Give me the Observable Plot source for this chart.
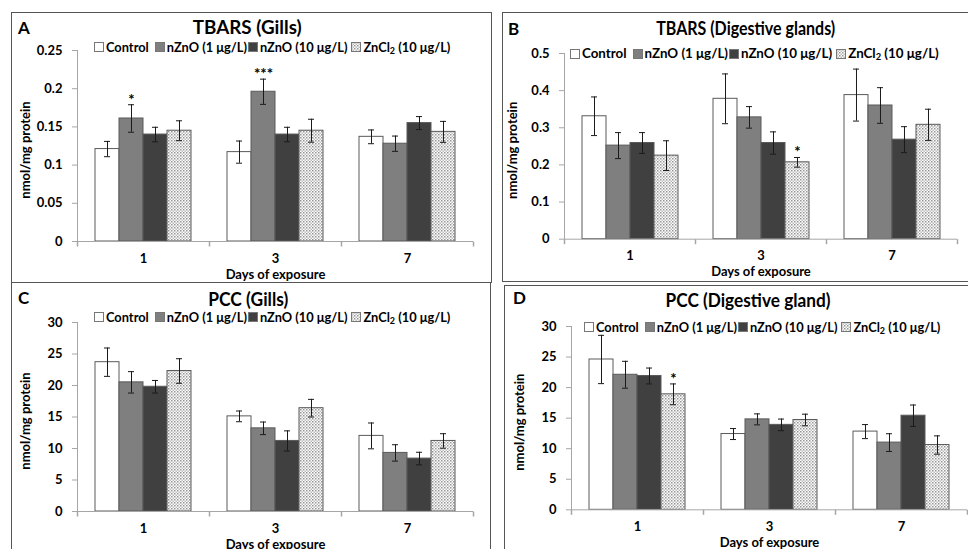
<!DOCTYPE html>
<html><head><meta charset="utf-8">
<script src="https://cdn.jsdelivr.net/npm/d3@7"></script>
<script src="https://cdn.jsdelivr.net/npm/@observablehq/plot@0.6"></script>
<style>
body{margin:0;background:#fff;overflow:hidden;font-family:Lato,"Open Sans",sans-serif;font-weight:bold;color:#000}
#page{position:relative;width:968px;height:549px;overflow:hidden;background:#fff}
.box{position:absolute;border:1px solid #555;box-sizing:border-box}
.letter{position:absolute;font-size:17px;line-height:1}
.title{position:absolute;font-size:18px;line-height:1;white-space:nowrap}
.legend{position:absolute;display:flex;align-items:center;font-size:12px;white-space:nowrap;z-index:3;line-height:1}
.legend .item{display:flex;align-items:center}
.legend svg{margin-right:2px;display:block}
.legend sub{font-size:0.7em;vertical-align:-2px;line-height:0}
.plotsvg{position:absolute;max-width:none !important;background:transparent !important;overflow:visible}
</style></head>
<body>
<div id="page">
<svg width="0" height="0" style="position:absolute">
 <defs>
  <pattern id="dots" patternUnits="userSpaceOnUse" width="3" height="3">
   <rect width="3" height="3" fill="#ffffff"/>
   <rect x="0" y="0" width="1.5" height="1.5" fill="#949494"/>
   <rect x="1.5" y="1.5" width="1.5" height="1.5" fill="#bdbdbd"/>
  </pattern>
 </defs>
</svg>
</div>
<script>
// ---------- data ----------
const days = ["1", "3", "7"];
const series = ["Control", "nZnO (1 μg/L)", "nZnO (10 μg/L)", "ZnCl2 (10 μg/L)"];
const seriesLegend = ["Control", "nZnO (1 μg/L)", "nZnO (10 μg/L)", "ZnCl<sub>2</sub> (10 μg/L)"];
const letters = ["A", "B", "C", "D"];
const titles = ["TBARS (Gills)", "TBARS (Digestive glands)", "PCC (Gills)", "PCC (Digestive gland)"];
const yLabel = "nmol/mg protein";
const xLabel = "Days of exposure";

// values ordered day 1 (4 series), day 3, day 7
const tbarsGills    = [0.121, 0.161, 0.140, 0.145,  0.117, 0.196, 0.140, 0.145,  0.137, 0.128, 0.155, 0.1435];
const tbarsGillsErr = [0.010, 0.018, 0.0095, 0.013, 0.0145, 0.0165, 0.0095, 0.015, 0.009, 0.010, 0.0085, 0.0137];
const tbarsDG       = [0.331, 0.252, 0.259, 0.225,  0.378, 0.328, 0.259, 0.207,  0.388, 0.360, 0.268, 0.308];
const tbarsDGErr    = [0.052, 0.035, 0.028, 0.040,  0.067, 0.029, 0.030, 0.013,  0.070, 0.048, 0.035, 0.042];
const pccGills      = [23.7, 20.5, 19.8, 22.3,  15.1, 13.2, 11.2, 16.4,  12.0, 9.3, 8.4, 11.2];
const pccGillsErr   = [2.25, 1.7, 1.0, 1.95,  0.85, 1.0, 1.6, 1.4,  2.05, 1.3, 1.0, 1.15];
const pccDG         = [24.6, 22.1, 21.9, 18.9,  12.4, 14.8, 13.9, 14.7,  12.8, 11.0, 15.4, 10.6];
const pccDGErr      = [3.95, 2.2, 1.3, 1.7,  0.9, 0.9, 0.95, 0.95,  1.15, 1.45, 1.75, 1.5];

const ticksTbarsGills = [0, 0.05, 0.1, 0.15, 0.2, 0.25];
const ticksTbarsDG    = [0, 0.1, 0.2, 0.3, 0.4, 0.5];
const ticksPcc        = [0, 5, 10, 15, 20, 25, 30];

const sigTbarsGills = [["1", "nZnO (1 μg/L)", "*"], ["3", "nZnO (1 μg/L)", "***"]];
const sigTbarsDG    = [["3", "ZnCl2 (10 μg/L)", "*"]];
const sigPccGills   = [];
const sigPccDG      = [["1", "ZnCl2 (10 μg/L)", "*"]];

// ---------- styles ----------
const colors = ["#ffffff", "#7f7f7f", "#404040", "url(#dots)"];
const axisGray = "#a6a6a6";
const fmt = d3.format("~g");

const page = document.getElementById("page");

function chart(values, errors, sig, yTicks, g) {
  const rows = [];
  days.forEach((day, i) => series.forEach((s, j) =>
    rows.push({day, series: s, value: values[i * series.length + j], err: errors[i * series.length + j]})));
  const sigRows = sig.map(([day, s, mark]) => ({...rows.find(r => r.day === day && r.series === s), mark}));
  const mt = 12, mb = 44, mr = 6;
  const vtick = {draw(ctx) { ctx.moveTo(0, 0); ctx.lineTo(0, 5); }};
  const svg = Plot.plot({
    width: g.right + mr - g.svgLeft,
    height: g.bottom - g.top + mt + mb,
    marginLeft: g.left - g.svgLeft, marginRight: mr, marginTop: mt, marginBottom: mb,
    style: {fontFamily: "Lato", fontSize: "13px", fontWeight: "bold", color: "#000", background: "transparent", overflow: "visible"},
    fx: {domain: days, padding: 0},
    x: {domain: series, paddingInner: 0, paddingOuter: 0.72, axis: null},
    y: {domain: [0, yTicks[yTicks.length - 1]]},
    color: {type: "ordinal", domain: series, range: colors},
    marks: [
      Plot.barY(rows, {fx: "day", x: "series", y: "value", fill: "series", stroke: "#5a5a5a", strokeWidth: 1}),
      Plot.ruleX(rows, {fx: "day", x: "series", y1: d => d.value - d.err, y2: d => d.value + d.err, stroke: "#1a1a1a"}),
      Plot.tickY(rows, {fx: "day", x: "series", y: d => d.value + d.err, stroke: "#1a1a1a", insetLeft: 9, insetRight: 9}),
      Plot.tickY(rows, {fx: "day", x: "series", y: d => d.value - d.err, stroke: "#1a1a1a", insetLeft: 9, insetRight: 9}),
      Plot.text(sigRows, {fx: "day", x: "series", y: d => d.value + d.err, text: "mark", lineAnchor: "bottom", dy: 0, fontSize: 15}),
      Plot.ruleY([0], {stroke: axisGray}),
      Plot.frame({anchor: "left", stroke: axisGray, facetAnchor: "left"}),
      Plot.dot(days, {fx: d => d, frameAnchor: "bottom-left", symbol: vtick, stroke: axisGray, fill: "none"}),
      Plot.dot(days.slice(-1), {fx: d => d, frameAnchor: "bottom-right", symbol: vtick, stroke: axisGray, fill: "none"}),
      Plot.axisY({ticks: yTicks, tickSize: 5, stroke: axisGray, fill: "none", label: null}),
      Plot.text(yTicks, {y: d => d, text: d => fmt(d), frameAnchor: "left", textAnchor: "end", dx: -15, fontSize: 13, facetAnchor: "left"}),
      Plot.text([yLabel], {frameAnchor: "left", rotate: -90, dx: -52, dy: 4, textAnchor: "middle", fontSize: 13, letterSpacing: "0.5px", facetAnchor: "left"}),
      Plot.axisFx({anchor: "bottom", tickSize: 0, tickPadding: 12, fontSize: 13, label: xLabel, labelAnchor: "center", labelArrow: "none", labelOffset: 37})
    ]
  });
  svg.classList.add("plotsvg");
  svg.style.left = g.svgLeft + "px";
  svg.style.top = (g.top - mt) + "px";
  return svg;
}

function legend(x, y, targetWidth) {
  const div = document.createElement("div");
  div.className = "legend";
  div.style.left = x + "px";
  div.style.top = y + "px";
  const gaps = [6, 1, 4, 0];
  series.forEach((s, i) => {
    const item = document.createElement("div");
    item.className = "item";
    item.style.marginRight = gaps[i] + "px";
    item.innerHTML = `<svg width="10" height="10"><rect x="0.5" y="0.5" width="9" height="9" fill="${colors[i]}" stroke="#777"/></svg><span>${seriesLegend[i]}</span>`;
    div.appendChild(item);
  });
  page.appendChild(div);
  const w = div.getBoundingClientRect().width;
  const fs = 12 * (targetWidth - 40) / (w - 40);
  div.style.fontSize = fs.toFixed(2) + "px";
  div.style.top = (y - div.getBoundingClientRect().height / 2) + "px";
}

function addDiv(cls, text, x, y) {
  const d = document.createElement("div");
  d.className = cls; d.textContent = text;
  d.style.left = x + "px"; d.style.top = y + "px";
  page.appendChild(d);
  return d;
}

function addTitle(text, cx, cy, targetWidth) {
  const d = addDiv("title", text, 0, 0);
  const r = d.getBoundingClientRect();
  const k = targetWidth / r.width;
  d.style.left = (cx - r.width / 2) + "px";
  d.style.top = (cy - r.height / 2) + "px";
  d.style.transformOrigin = "50% 50%";
  d.style.transform = `scaleX(${k.toFixed(3)})`;
}

const panels = [
  {box: [11, 12, 481, 271], letter: [18, 19], title: [247, 27, 109], legend: [94, 47, 358],
   geo: {svgLeft: 12, left: 77, right: 473, top: 50, bottom: 241}, v: tbarsGills, e: tbarsGillsErr, s: sigTbarsGills, t: ticksTbarsGills},
  {box: [502, 12, 470, 270], letter: [508, 20], title: [746, 28, 179], legend: [570, 54, 371],
   geo: {svgLeft: 503, left: 563, right: 957, top: 53.3, bottom: 239}, v: tbarsDG, e: tbarsDGErr, s: sigTbarsDG, t: ticksTbarsDG},
  {box: [11, 282, 480, 280], letter: [18, 289], title: [248, 299, 80], legend: [94, 317, 358],
   geo: {svgLeft: 12, left: 77, right: 473, top: 321.7, bottom: 510.7}, v: pccGills, e: pccGillsErr, s: sigPccGills, t: ticksPcc},
  {box: [504, 285, 470, 280], letter: [513, 289], title: [748, 300, 165], legend: [584, 327, 358],
   geo: {svgLeft: 505, left: 570, right: 967, top: 326, bottom: 509.3}, v: pccDG, e: pccDGErr, s: sigPccDG, t: ticksPcc}
];

panels.forEach((p, i) => {
  const b = document.createElement("div");
  b.className = "box";
  b.style.left = p.box[0] + "px"; b.style.top = p.box[1] + "px";
  b.style.width = p.box[2] + "px"; b.style.height = p.box[3] + "px";
  page.appendChild(b);
  page.appendChild(chart(p.v, p.e, p.s, p.t, p.geo));
  addDiv("letter", letters[i], p.letter[0], p.letter[1]);
  addTitle(titles[i], p.title[0], p.title[1], p.title[2]);
  legend(p.legend[0], p.legend[1], p.legend[2]);
});
</script>
</body></html>
